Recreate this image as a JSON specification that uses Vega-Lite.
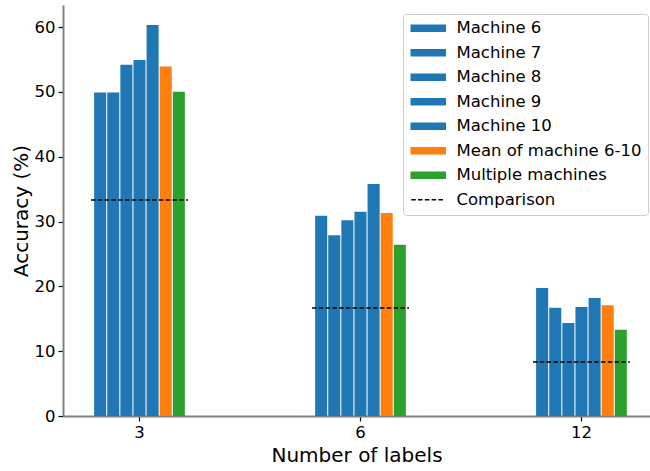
{
  "$schema": "https://vega.github.io/schema/vega-lite/v6.json",
  "width": 587,
  "height": 411,
  "autosize": {"type": "none"},
  "padding": {"left": 63, "top": 5, "right": 0, "bottom": 55},
  "config": {
    "view": {"stroke": null},
    "font": "DejaVu Sans",
    "axis": {
      "grid": false,
      "labelFont": "DejaVu Sans",
      "titleFont": "DejaVu Sans",
      "labelFontSize": 16.5,
      "titleFontSize": 20,
      "titleFontWeight": "normal",
      "labelColor": "black",
      "titleColor": "black",
      "tickColor": "black",
      "tickSize": 5,
      "tickWidth": 1.2,
      "domainColor": "#808080",
      "domainWidth": 2,
      "labelPadding": 3
    }
  },
  "datasets": {
    "bars": [
      {"labels": "3", "series": "Machine 6", "acc": 49.9},
      {"labels": "3", "series": "Machine 7", "acc": 49.9},
      {"labels": "3", "series": "Machine 8", "acc": 54.2},
      {"labels": "3", "series": "Machine 9", "acc": 54.9},
      {"labels": "3", "series": "Machine 10", "acc": 60.3},
      {"labels": "3", "series": "Mean of machine 6-10", "acc": 53.9},
      {"labels": "3", "series": "Multiple machines", "acc": 50.0},
      {"labels": "6", "series": "Machine 6", "acc": 30.9},
      {"labels": "6", "series": "Machine 7", "acc": 27.9},
      {"labels": "6", "series": "Machine 8", "acc": 30.2},
      {"labels": "6", "series": "Machine 9", "acc": 31.5},
      {"labels": "6", "series": "Machine 10", "acc": 35.8},
      {"labels": "6", "series": "Mean of machine 6-10", "acc": 31.3},
      {"labels": "6", "series": "Multiple machines", "acc": 26.4},
      {"labels": "12", "series": "Machine 6", "acc": 19.75},
      {"labels": "12", "series": "Machine 7", "acc": 16.7},
      {"labels": "12", "series": "Machine 8", "acc": 14.35},
      {"labels": "12", "series": "Machine 9", "acc": 16.8},
      {"labels": "12", "series": "Machine 10", "acc": 18.2},
      {"labels": "12", "series": "Mean of machine 6-10", "acc": 17.1},
      {"labels": "12", "series": "Multiple machines", "acc": 13.3}
    ],
    "comp": [
      {"labels": "3", "series": "Comparison", "acc": 33.33},
      {"labels": "6", "series": "Comparison", "acc": 16.67},
      {"labels": "12", "series": "Comparison", "acc": 8.33}
    ]
  },
  "layer": [
    {
      "data": {"name": "bars"},
      "mark": {"type": "bar"},
      "encoding": {
        "x": {
          "field": "labels",
          "type": "nominal",
          "title": "Number of labels",
          "scale": {"domain": ["3", "6", "12"], "paddingInner": 0.561, "paddingOuter": 0.1086, "align": 0.583},
          "axis": {"labelAngle": 0, "titlePadding": 5}
        },
        "xOffset": {
          "field": "series",
          "type": "nominal",
          "scale": {
            "domain": ["Machine 6", "Machine 7", "Machine 8", "Machine 9", "Machine 10", "Mean of machine 6-10", "Multiple machines"],
            "paddingInner": 0.08,
            "paddingOuter": 0.24
          }
        },
        "y": {
          "field": "acc",
          "type": "quantitative",
          "title": "Accuracy (%)",
          "scale": {"domain": [0, 63.4], "nice": false},
          "axis": {"values": [0, 10, 20, 30, 40, 50, 60], "titlePadding": 3}
        },
        "color": {
          "field": "series",
          "type": "nominal",
          "scale": {
            "domain": ["Machine 6", "Machine 7", "Machine 8", "Machine 9", "Machine 10", "Mean of machine 6-10", "Multiple machines", "Comparison"],
            "range": ["#1f77b4", "#1f77b4", "#1f77b4", "#1f77b4", "#1f77b4", "#ff7f0e", "#2ca02c", "#000000"]
          },
          "legend": {
            "title": null,
            "orient": "none",
            "legendX": 340,
            "legendY": 9,
            "padding": 6,
            "strokeColor": "#cccccc",
            "fillColor": "rgba(255,255,255,0.8)",
            "cornerRadius": 3,
            "labelFont": "DejaVu Sans",
            "labelFontSize": 16.5,
            "labelColor": "black",
            "labelLimit": 400,
            "symbolSize": 144,
            "symbolStrokeWidth": 1.5,
            "labelOffset": 31,
            "rowPadding": 7.5,
            "encode": {
              "symbols": {
                "update": {
                  "shape": [
                    {"test": "datum.value === 'Comparison'", "value": "M-1,0H4.67"},
                    {"value": "M-1,-0.5H4.67V0.5H-1Z"}
                  ],
                  "fill": [
                    {"test": "datum.value === 'Comparison'", "value": "transparent"},
                    {"scale": "color", "field": "value"}
                  ],
                  "stroke": [
                    {"test": "datum.value === 'Comparison'", "value": "black"},
                    {"value": "transparent"}
                  ],
                  "strokeDash": [
                    {"test": "datum.value === 'Comparison'", "value": [4.5, 2.3]},
                    {"value": []}
                  ],
                  "strokeWidth": {"value": 1.5},
                  "opacity": {"value": 1}
                }
              }
            }
          }
        }
      }
    },
    {
      "data": {"name": "comp"},
      "mark": {"type": "rule", "strokeDash": [4.5, 2.3], "strokeWidth": 1.5},
      "encoding": {
        "x": {"field": "labels", "type": "nominal", "bandPosition": 0},
        "x2": {"field": "labels", "bandPosition": 1},
        "y": {"field": "acc", "type": "quantitative"},
        "color": {"field": "series", "type": "nominal"}
      }
    }
  ]
}
